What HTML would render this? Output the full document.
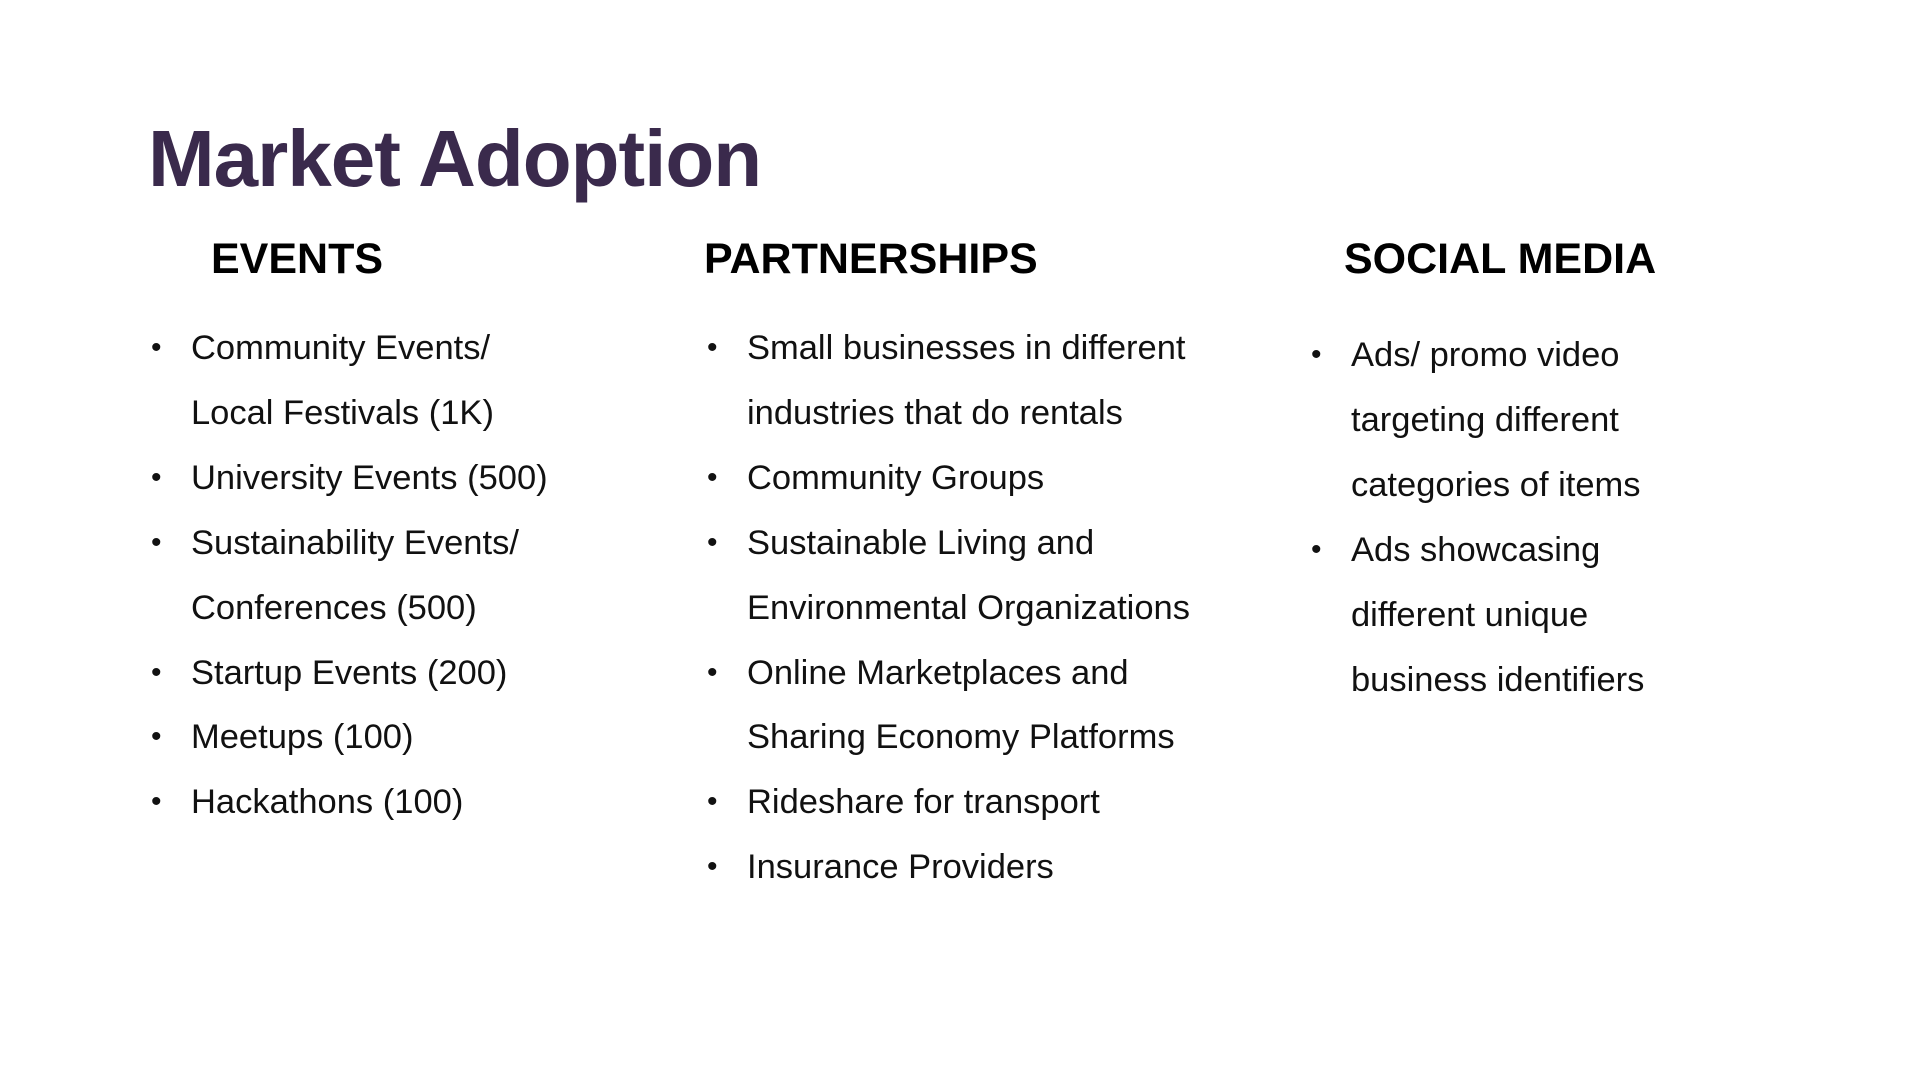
<!DOCTYPE html>
<html><head><meta charset="utf-8">
<style>
html,body{margin:0;padding:0;background:#fff;}
body{width:1920px;height:1080px;position:relative;overflow:hidden;font-family:"Liberation Sans",sans-serif;color:#111;}
.title{position:absolute;left:148px;top:119px;font-size:80px;font-weight:bold;line-height:1;color:#3a2a4c;letter-spacing:-1px;}
.h{position:absolute;top:238px;font-size:43px;font-weight:bold;line-height:1;color:#000;}
.col{position:absolute;font-size:34.5px;line-height:64.9px;}
.col .row{position:relative;white-space:nowrap;}
.col .b{position:absolute;left:-40px;font-size:30px;}
</style></head><body>
<div class="title">Market Adoption</div>
<div class="h" style="left:211px">EVENTS</div>
<div class="h" style="left:704px">PARTNERSHIPS</div>
<div class="h" style="left:1344px">SOCIAL MEDIA</div>

<div class="col" style="left:191px;top:316px">
<div class="row"><span class="b">•</span>Community Events/</div>
<div class="row">Local Festivals (1K)</div>
<div class="row"><span class="b">•</span>University Events (500)</div>
<div class="row"><span class="b">•</span>Sustainability Events/</div>
<div class="row">Conferences (500)</div>
<div class="row"><span class="b">•</span>Startup Events (200)</div>
<div class="row"><span class="b">•</span>Meetups (100)</div>
<div class="row"><span class="b">•</span>Hackathons (100)</div>
</div>

<div class="col" style="left:747px;top:316px">
<div class="row"><span class="b">•</span>Small businesses in different</div>
<div class="row">industries that do rentals</div>
<div class="row"><span class="b">•</span>Community Groups</div>
<div class="row"><span class="b">•</span>Sustainable Living and</div>
<div class="row">Environmental Organizations</div>
<div class="row"><span class="b">•</span>Online Marketplaces and</div>
<div class="row">Sharing Economy Platforms</div>
<div class="row"><span class="b">•</span>Rideshare for transport</div>
<div class="row"><span class="b">•</span>Insurance Providers</div>
</div>

<div class="col" style="left:1351px;top:323px">
<div class="row"><span class="b">•</span>Ads/ promo video</div>
<div class="row">targeting different</div>
<div class="row">categories of items</div>
<div class="row"><span class="b">•</span>Ads showcasing</div>
<div class="row">different unique</div>
<div class="row">business identifiers</div>
</div>
</body></html>
